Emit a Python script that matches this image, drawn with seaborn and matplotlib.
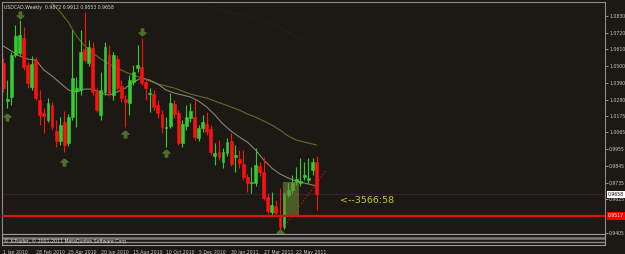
import numpy as np
import pandas as pd
import matplotlib
matplotlib.use("Agg")
import matplotlib.pyplot as plt
import matplotlib.transforms as mtrans
from matplotlib.patches import Rectangle
import seaborn as sns

# ---------------- data ----------------
bar_open = [1.0521, 1.0271, 1.0298, 1.0574, 1.0587, 1.0685, 1.0508, 1.0363, 1.0541, 1.0278,
            1.0193, 1.0147, 1.0245, 1.0074, 1.0009, 1.0133, 0.9995, 1.0166, 1.0337, 1.0344,
            1.0613, 1.0521, 1.0620, 1.0331, 1.0180, 1.0331, 1.0574, 1.0311, 1.0547, 1.0370,
            1.0285, 1.0258, 1.0396, 1.0488, 1.0495, 1.0396, 1.0317, 1.0317, 1.0245, 1.0186,
            1.0094, 1.0107, 1.0252, 1.0193, 0.9995, 1.0107, 1.0160, 1.0166, 1.0028, 1.0094,
            1.0120, 1.0088, 0.9910, 0.9936, 0.9871, 0.9930, 1.0009, 0.9904, 0.9890, 0.9858,
            0.9772, 0.9733, 0.9733, 0.9844, 0.9805, 0.9641, 0.9542, 0.9582, 0.9522, 0.9444,
            0.9654, 0.9687, 0.9739, 0.9733, 0.9772, 0.9752, 0.9818, 0.9872]
bar_high = [1.0554, 1.0409, 1.0593, 1.0771, 1.0804, 1.0758, 1.0528, 1.0567, 1.0560, 1.0344,
            1.0225, 1.0291, 1.0265, 1.0147, 1.0166, 1.0206, 1.0186, 1.0738, 1.0429, 1.0738,
            1.0856, 1.0672, 1.0659, 1.0357, 1.0462, 1.0659, 1.0639, 1.0593, 1.0574, 1.0409,
            1.0311, 1.0442, 1.0508, 1.0639, 1.0685, 1.0423, 1.0357, 1.0344, 1.0278, 1.0212,
            1.0166, 1.0324, 1.0278, 1.0212, 1.0147, 1.0245, 1.0258, 1.0278, 1.0114, 1.0180,
            1.0199, 1.0114, 0.9995, 1.0015, 0.9963, 1.0028, 1.0061, 0.9982, 0.9950, 0.9950,
            0.9792, 0.9838, 0.9963, 0.9871, 0.9904, 0.9667, 0.9674, 0.9621, 0.9700, 0.9674,
            0.9733, 0.9785, 0.9838, 0.9897, 0.9871, 0.9897, 0.9897, 0.9912]
bar_low = [1.0331, 1.0225, 1.0245, 1.0560, 1.0574, 1.0475, 1.0357, 1.0344, 1.0278, 1.0114,
           1.0061, 1.0133, 1.0081, 0.9969, 0.9982, 0.9936, 0.9976, 1.0147, 1.0101, 1.0311,
           1.0528, 1.0501, 1.0311, 1.0199, 1.0147, 1.0311, 1.0304, 1.0278, 1.0344, 1.0265,
           1.0101, 1.0180, 1.0377, 1.0462, 1.0377, 1.0278, 1.0199, 1.0212, 1.0160, 1.0061,
           0.9969, 1.0094, 1.0160, 0.9982, 0.9969, 1.0081, 1.0133, 1.0015, 1.0009, 1.0068,
           1.0048, 0.9917, 0.9851, 0.9884, 0.9831, 0.9910, 0.9844, 0.9805, 0.9831, 0.9752,
           0.9674, 0.9667, 0.9713, 0.9779, 0.9621, 0.9529, 0.9522, 0.9516, 0.9424, 0.9431,
           0.9641, 0.9667, 0.9720, 0.9713, 0.9752, 0.9733, 0.9785, 0.9553]
bar_close = [1.0357, 1.0285, 1.0574, 1.0698, 1.0705, 1.0495, 1.0390, 1.0515, 1.0291, 1.0180,
             1.0173, 1.0258, 1.0101, 1.0009, 1.0114, 0.9982, 1.0166, 1.0423, 1.0357, 1.0593,
             1.0541, 1.0626, 1.0331, 1.0212, 1.0344, 1.0626, 1.0324, 1.0574, 1.0357, 1.0291,
             1.0265, 1.0409, 1.0462, 1.0508, 1.0390, 1.0357, 1.0324, 1.0232, 1.0193, 1.0101,
             1.0101, 1.0258, 1.0186, 0.9995, 1.0120, 1.0166, 1.0206, 1.0035, 1.0094, 1.0133,
             1.0068, 0.9936, 0.9930, 0.9904, 0.9936, 1.0002, 0.9858, 0.9917, 0.9864, 0.9772,
             0.9733, 0.9739, 0.9851, 0.9805, 0.9634, 0.9549, 0.9588, 0.9536, 0.9444, 0.9660,
             0.9687, 0.9733, 0.9759, 0.9746, 0.9785, 0.9766, 0.9871, 0.9658]

ma_slow_bars = [10, 12, 14, 16, 18, 20, 22, 24, 26, 28, 30, 32, 34, 36, 38, 40, 42, 44,
                46, 48, 50, 52, 54, 56, 58, 60, 62, 64, 66, 68, 70, 72, 74, 76, 77]
ma_slow = [1.0968, 1.0915, 1.0856, 1.0790, 1.0698, 1.0633, 1.0587, 1.0547, 1.0515, 1.0488,
           1.0462, 1.0442, 1.0423, 1.0403, 1.0383, 1.0370, 1.0357, 1.0337, 1.0317, 1.0304,
           1.0291, 1.0271, 1.0252, 1.0232, 1.0212, 1.0186, 1.0166, 1.0140, 1.0114, 1.0081,
           1.0042, 1.0015, 1.0002, 0.9989, 0.9982]
ma_fast_bars = list(range(0, 77, 2)) + [77]
ma_fast = [1.0633, 1.0600, 1.0567, 1.0547, 1.0541, 1.0475, 1.0436, 1.0390, 1.0344, 1.0331,
           1.0350, 1.0350, 1.0324, 1.0311, 1.0331, 1.0357, 1.0396, 1.0423, 1.0409, 1.0383,
           1.0344, 1.0324, 1.0311, 1.0298, 1.0271, 1.0232, 1.0180, 1.0120, 1.0074, 1.0035,
           1.0002, 0.9950, 0.9884, 0.9831, 0.9792, 0.9766, 0.9746, 0.9733, 0.9720, 0.9713]
dots_bars = [48, 52, 56, 60, 64, 68, 72, 75]
dots_line = [1.0909, 1.0882, 1.0850, 1.0830, 1.0790, 1.0751, 1.0692, 1.0653]

fractal_up_bars = [1, 15, 30, 40, 68]
fractal_up_price = [1.0166, 0.9871, 1.0055, 0.9930, 0.9404]
fractal_dn_bars = [4, 34]
fractal_dn_price = [1.0836, 1.0725]

price_ticks = [1.0830, 1.0720, 1.0610, 1.0500, 1.0390, 1.0280, 1.0175, 1.0065,
               0.9955, 0.9845, 0.9735, 0.9625, 0.9405]
date_bars = [0, 8, 16, 24, 32, 40, 48, 56, 64, 72]
date_labels = ["1 Jan 2010", "28 Feb 2010", "25 Apr 2010", "20 Jun 2010", "15 Aug 2010",
               "10 Oct 2010", "5 Dec 2010", "30 Jan 2011", "27 Mar 2011", "22 May 2011"]

bid_price = 0.9658
level_price = 0.9517
box_bars = [68.8, 72.7]
box_prices = [0.9516, 0.9739]
trend_bars = [68.8, 79.4]
trend_prices = [0.9437, 0.9818]
timer_text = "<--3566:58"
timer_bar = 82.8
timer_price = 0.9621
title_text = "USDCAD,Weekly  0.9872 0.9912 0.9553 0.9658"
copyright_text = "© X-Trader, © 2001-2011 MetaQuotes Software Corp."

# ---------------- style ----------------
BG = "#1c1914"
sns.set_style("dark", rc={"axes.facecolor": BG, "figure.facecolor": BG,
                          "axes.edgecolor": "#8a8a8a", "grid.color": BG})
plt.rcParams["font.family"] = ["DejaVu Sans"]

fig = plt.figure(figsize=(6.25, 2.54), dpi=100)
fig.patch.set_facecolor(BG)
ax = fig.add_axes([2 / 625, 20 / 254, 603 / 625, 232 / 254])
sub = fig.add_axes([2 / 625, 9 / 254, 603 / 625, 11 / 254])

xlim = (-0.3, -0.3 + 603 / 4.07)

df = pd.DataFrame({"open": bar_open, "high": bar_high, "low": bar_low, "close": bar_close})
df["bar"] = np.arange(len(df))
bull = df["close"] >= df["open"]
cols = np.where(bull, "#32cd32", "#ff1010")

ax.vlines(df["bar"], df["low"], df["high"], colors=cols, lw=0.8, zorder=2)
ax.bar(df["bar"], df["close"] - df["open"], bottom=df["open"], width=0.7,
       color=cols, edgecolor=cols, lw=0.4, zorder=2)

sns.lineplot(x=ma_slow_bars, y=ma_slow, ax=ax, color="#5f6e24", lw=0.8, zorder=1)
sns.lineplot(x=ma_fast_bars, y=ma_fast, ax=ax, color="#8a8070", lw=0.8, zorder=1)
sns.lineplot(x=dots_bars, y=dots_line, ax=ax, color="#3a1a30", lw=0.8, ls=":", zorder=1)

up_marker = [(0, 1), (-1, 0.1), (-0.35, 0.1), (-0.35, -1), (0.35, -1), (0.35, 0.1), (1, 0.1), (0, 1)]
dn_marker = [(x, -y) for x, y in up_marker]
ax.plot(fractal_up_bars, fractal_up_price, ls="none", marker=up_marker, ms=5,
        color="#4e6e2e", mec="#4e6e2e", zorder=3)
ax.plot(fractal_dn_bars, fractal_dn_price, ls="none", marker=dn_marker, ms=5,
        color="#4e6e2e", mec="#4e6e2e", zorder=3)

ax.axhline(bid_price, color="#3c1a40", lw=0.8, zorder=1)
ax.axhline(level_price, color="#e01010", lw=1.6, zorder=4)
ax.add_patch(Rectangle((box_bars[0], box_prices[0]), box_bars[1] - box_bars[0],
                       box_prices[1] - box_prices[0], facecolor="#6f8a35", alpha=0.6,
                       lw=0, zorder=3))
ax.plot(trend_bars, trend_prices, color="#d01010", ls=":", lw=0.9, zorder=3)
ax.text(timer_bar, timer_price, timer_text, color="#c8c832", fontsize=6.8,
        va="center", ha="left")

ax.text(0.003, 0.985, title_text, transform=ax.transAxes, color="#d8d8d8",
        fontsize=3.3, va="top", ha="left")

ax.set_xlim(xlim)
ax.set_ylim(0.9398, 1.0922)
ax.set_xticks([])
ax.yaxis.tick_right()
ax.set_yticks(price_ticks)
ax.set_yticklabels([f"{p:.4f}" for p in price_ticks])
ax.tick_params(axis="y", length=2, width=0.5, colors="#c8c8c8", labelsize=3.3, pad=1)
for s in ax.spines.values():
    s.set_color("#8a8a8a")
    s.set_linewidth(0.8)
ax.set_xlabel("")
ax.set_ylabel("")
ax.grid(False)

tr = mtrans.blended_transform_factory(ax.transAxes, ax.transData)
ax.text(1.005, bid_price, f"{bid_price:.4f}", transform=tr, fontsize=3.3, color="#000000",
        va="center", ha="left", bbox=dict(boxstyle="square,pad=0.25", fc="#ffffff", ec="none"))
ax.text(1.005, level_price, f"{level_price:.4f}", transform=tr, fontsize=3.3, color="#ffffff",
        va="center", ha="left", bbox=dict(boxstyle="square,pad=0.25", fc="#ff0000", ec="none"))

# indicator sub window
sub.set_xlim(xlim)
sub.set_ylim(0, 11)
sub.axhline(7.5, color="#7c7c7c", lw=1.8)
sub.axhline(2.8, color="#8a8a8a", lw=1.0)
sub.text(0.3, 4.0, copyright_text, color="#e0e0e0", fontsize=3.3, va="center", ha="left")
sub.set_yticks([])
sub.set_xticks(date_bars)
sub.set_xticklabels(date_labels)
for lab in sub.get_xticklabels():
    lab.set_horizontalalignment("left")
sub.tick_params(axis="x", length=2, width=0.5, colors="#c8c8c8", labelsize=3.3, pad=1.5)
for s in sub.spines.values():
    s.set_color("#9a9a9a")
    s.set_linewidth(0.8)
sub.grid(False)

fig.savefig("out.png", dpi=100, facecolor=BG)
